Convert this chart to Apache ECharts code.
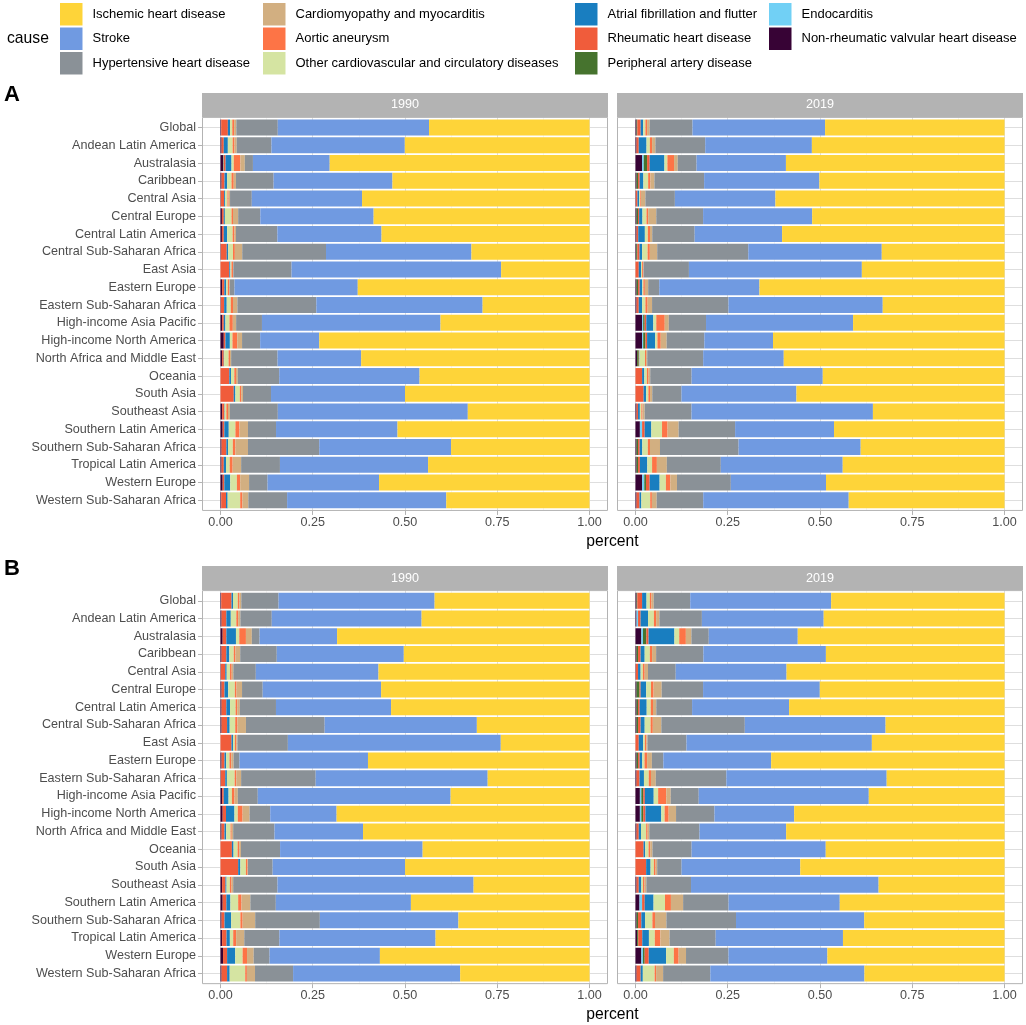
<!DOCTYPE html>
<html>
<head>
<meta charset="utf-8">
<script src="https://cdn.jsdelivr.net/npm/echarts@6/dist/echarts.min.js"></script>
<style>
html,body{margin:0;padding:0;background:#fff;}
#chart{width:1026px;height:1025px;}
</style>
</head>
<body>
<div id="chart"></div>
<script>
// Regions (top to bottom)
const regions = ["Global","Andean Latin America","Australasia","Caribbean","Central Asia","Central Europe","Central Latin America","Central Sub-Saharan Africa","East Asia","Eastern Europe","Eastern Sub-Saharan Africa","High-income Asia Pacific","High-income North America","North Africa and Middle East","Oceania","South Asia","Southeast Asia","Southern Latin America","Southern Sub-Saharan Africa","Tropical Latin America","Western Europe","Western Sub-Saharan Africa"];

// Causes in legend order
const causes = ["Ischemic heart disease","Stroke","Hypertensive heart disease","Cardiomyopathy and myocarditis","Aortic aneurysm","Other cardiovascular and circulatory diseases","Atrial fibrillation and flutter","Rheumatic heart disease","Peripheral artery disease","Endocarditis","Non-rheumatic valvular heart disease"];
const causeColors = ["#FED439","#709AE1","#8A9197","#D2AF81","#FD7446","#D5E4A2","#197EC0","#F05C3B","#46732E","#71D0F5","#370335"];

// Per-region shares (%), stack order left -> right:
// Non-rheumatic, Endocarditis, Peripheral, Rheumatic, Atrial fib, Other CVD, Aortic, Cardiomyopathy, Hypertensive, Stroke, Ischemic
const a1990 = [
[0.2,0,0,1.8,0.6,0.6,0.5,0.6,11.2,40.9,43.4],
[0.3,0,0,0.6,1.1,1.3,0.5,0.6,9.4,36.1,50.0],
[0.7,0.1,0.1,0.5,1.6,0.6,1.8,1.2,2.2,20.8,70.4],
[0.3,0,0,0.8,0.7,1.2,0.6,0.6,10.2,32.2,53.4],
[0.1,0,0,0.9,0.3,0.6,0.3,0.4,5.9,29.9,61.7],
[0.4,0,0,0.5,0.3,1.8,0.4,1.4,6.0,30.7,58.5],
[0.4,0,0,0.5,0.9,1.5,0.5,0.4,11.2,28.2,56.3],
[0.1,0,0,1.6,0.4,1.3,0.5,2.0,22.7,39.4,32.0],
[0,0,0,2.4,0.3,0.3,0.4,0.1,15.8,56.9,24.0],
[0.45,0,0,0.6,0.5,0.45,0.4,0.1,1.3,33.4,62.8],
[0.1,0,0,0.9,0.7,1.1,0.6,1.2,21.4,45.1,29.0],
[0.45,0,0,0.45,0.45,1.1,0.9,0.9,7.0,48.4,40.4],
[0.9,0,0,0.45,1.2,0.7,1.3,1.3,4.9,16.0,73.2],
[0.45,0,0,0.45,0.1,1.2,0.4,0.3,12.6,22.7,62.0],
[0,0,0,2.4,0.45,0.9,0.45,0.5,11.2,38.0,46.0],
[0,0,0,3.6,0.45,1.2,0.4,0.45,7.6,36.3,50.0],
[0.45,0,0,0.6,0.1,0.45,0.45,0.5,13.0,51.5,33.0],
[0.6,0,0,0.45,1.2,1.8,1.1,2.3,7.6,32.9,52.0],
[0.3,0,0,1.3,0.45,1.3,0.7,3.4,19.3,35.7,37.5],
[0.3,0,0,0.6,0.6,1.0,0.8,2.3,10.5,40.1,43.7],
[0.6,0,0,0.45,1.6,1.8,0.9,2.4,5.0,30.2,57.0],
[0.2,0,0,1.3,0.45,3.4,0.6,1.6,10.5,43.1,38.8]
];
const a2019 = [
[0.3,0,0.2,0.9,0.7,0.6,0.45,0.7,11.6,35.9,48.6],
[0.3,0,0,0.6,2.1,0.9,0.6,0.9,13.5,28.9,52.2],
[1.8,0.45,0.9,0.7,4.0,0.8,1.8,1.0,5.1,24.2,59.2],
[0.3,0,0.4,0.45,1.0,1.3,0.6,1.1,13.5,31.3,50.3],
[0.1,0,0,0.45,0.45,0.3,0.2,1.2,8.0,27.3,62.2],
[0.3,0,0.4,0.3,0.9,1.1,0.45,2.2,12.7,29.6,52.2],
[0.3,0,0,0.45,1.8,0.8,0.6,0.6,11.5,23.7,60.3],
[0.2,0,0.3,0.6,0.7,1.5,0.6,2.0,24.7,36.2,33.3],
[0,0,0,0.9,0.6,0.3,0.3,0.1,12.3,46.9,38.7],
[0.3,0,0.4,0.45,0.7,0.3,0.4,0.9,3.0,27.2,66.5],
[0.3,0,0,0.6,0.9,0.9,0.6,1.2,20.7,41.8,33.0],
[1.8,0.3,0.4,0.45,1.9,0.8,2.3,1.1,10.1,39.9,41.1],
[1.8,0.3,0.6,0.45,2.2,0.6,0.9,1.6,10.2,18.6,62.7],
[0.45,0,0.45,0.1,0.1,1.5,0.3,0.3,15.2,21.9,60.0],
[0,0,0,1.8,0.6,0.7,0.45,0.45,11.2,35.5,49.2],
[0,0,0,2.2,0.7,0.6,0.45,0.6,7.9,31.1,56.3],
[0.3,0,0,0.4,0.5,0.4,0.3,0.6,12.7,49.2,35.7],
[1.2,0.6,0,0.7,1.8,2.9,1.5,3.0,15.3,26.8,46.2],
[0.3,0,0.4,0.45,0.7,1.5,0.6,2.7,21.3,33.1,39.0],
[0.3,0,0.4,0.5,2.0,1.3,1.3,2.7,14.6,33.0,43.8],
[1.8,0.6,0.45,1.0,2.7,1.7,1.2,1.8,14.6,25.8,48.4],
[0.3,0,0,0.8,0.5,2.4,0.45,1.3,12.6,39.4,42.2]
];
const b1990 = [
[0.2,0,0,2.8,0.4,1.3,0.45,0.5,10.1,42.3,42.0],
[0.3,0,0,1.3,1.2,1.5,0.5,0.6,8.5,40.6,45.5],
[0.6,0,0,1.0,2.6,0.9,1.8,1.6,2.1,21.0,68.4],
[0.3,0,0,1.3,0.8,1.2,0.45,1.3,9.9,34.4,50.3],
[0.1,0,0,1.2,0.4,0.9,0.45,0.45,6.1,33.3,57.3],
[0.3,0,0,0.8,1.0,1.8,0.45,1.5,5.6,32.1,56.5],
[0.3,0,0,1.3,1.0,1.5,0.45,0.7,9.8,31.2,53.8],
[0.3,0,0,1.5,0.7,1.5,0.6,2.3,21.3,41.2,30.5],
[0,0,0,3.0,0.4,0.5,0.4,0.3,13.7,57.8,24.1],
[0.3,0,0,0.8,0.45,0.9,0.5,0.6,1.6,34.8,60.0],
[0.1,0,0,1.2,0.45,2.1,0.45,1.3,20.2,46.6,27.6],
[0.45,0,0,0.45,1.3,0.9,0.7,0.9,5.4,52.2,37.6],
[0.6,0,0,0.9,2.3,0.9,1.3,1.9,5.6,18.0,68.6],
[0.3,0,0,0.8,0.45,1.2,0.3,0.4,11.2,24.0,61.4],
[0,0,0,3.1,0.45,1.1,0.45,0.45,10.6,38.6,45.2],
[0,0,0,4.8,0.6,1.5,0.45,0.1,6.7,35.9,50.0],
[0.45,0,0,0.9,0.3,0.9,0.45,0.45,12.0,53.1,31.4],
[0.6,0,0,1.0,1.1,2.1,0.9,2.4,6.9,36.6,48.4],
[0.3,0,0,0.8,1.8,2.5,0.6,3.4,17.5,37.5,35.5],
[0.45,0,0,1.2,0.9,0.9,0.8,2.2,9.5,42.3,41.7],
[0.7,0,0,1.1,2.2,2.0,1.2,1.8,4.3,29.9,56.8],
[0.3,0,0,1.5,0.7,4.2,0.45,2.2,10.3,45.2,35.0]
];
const b2019 = [
[0.3,0,0.2,1.3,1.2,0.9,0.45,0.6,9.9,38.2,47.0],
[0.3,0.4,0,0.7,2.0,1.6,0.6,0.9,11.5,33.0,49.0],
[1.6,0.45,0.9,0.6,7.0,1.3,1.8,1.5,4.7,24.1,56.0],
[0.3,0,0.4,0.7,1.1,1.4,0.6,1.1,12.8,33.2,48.4],
[0.1,0,0,0.6,0.7,0.6,0.5,0.9,7.5,30.0,59.0],
[0.3,0,0.8,0.3,1.5,1.3,0.7,2.2,11.2,31.6,50.0],
[0.3,0,0.4,0.45,1.9,1.1,0.6,0.9,9.7,26.3,58.4],
[0.3,0,0.4,0.7,1.1,1.6,0.6,2.3,22.6,38.1,32.2],
[0,0,0,0.9,1.2,0.45,0.4,0.3,10.6,50.3,36.0],
[0.3,0,0.4,0.45,0.7,0.6,0.7,1.3,3.1,29.2,63.2],
[0.3,0,0,0.8,1.2,1.3,0.6,1.3,19.1,43.4,31.9],
[1.2,0.4,0.5,0.45,2.4,1.2,2.2,1.2,7.6,46.1,36.8],
[1.2,0.4,0.5,0.6,4.3,0.9,1.1,2.0,10.4,21.6,57.0],
[0.3,0,0,0.6,0.6,1.4,0.4,0.45,13.6,23.5,59.2],
[0,0,0,2.2,0.45,0.9,0.45,0.6,10.6,36.3,48.4],
[0,0,0,2.9,1.2,0.9,0.45,0.45,6.6,32.2,55.4],
[0.3,0,0,0.6,0.7,0.45,0.4,0.5,12.1,50.8,34.1],
[1.1,0.7,0,0.7,2.4,3.1,1.6,3.3,12.3,30.1,44.6],
[0.3,0,0.4,0.9,1.0,2.0,0.7,3.1,18.9,34.8,38.1],
[0.45,0,0.3,1.1,1.8,1.6,1.5,2.5,12.5,34.5,43.8],
[1.6,0.45,0.45,1.1,4.7,2.1,1.3,2.0,11.5,26.8,48.0],
[0.3,0,0,1.1,0.6,3.2,0.4,1.9,12.8,41.8,38.0]
];
const xTicks = [0, 0.25, 0.5, 0.75, 1];

const FONT = "'Liberation Sans', Arial, Helvetica, sans-serif";
const GREY70 = '#B3B3B3', GRID_MAJ = '#DEDEDE', GRID_MIN = '#EEEEEE', AXTXT = '#4D4D4D';

const panels = [
  {rows: a1990, L: 202, T: 116.9, s: 17.75, strip: '1990', left: true},
  {rows: a2019, L: 617, T: 116.9, s: 17.75, strip: '2019', left: false},
  {rows: b1990, L: 202, T: 590.1, s: 17.75, strip: '1990', left: true},
  {rows: b2019, L: 617, T: 590.1, s: 17.75, strip: '2019', left: false}
];
const PW = 406, EXP = PW * 0.05 / 1.1, DW = PW - 2 * EXP, STRIP_H = 24;

const grid = [], xAxis = [], yAxis = [], series = [], graphic = [];
panels.forEach((p, i) => {
  const H = 22.2 * p.s;
  // grid V: vertical gridlines + x axis labels
  grid.push({left: p.L + EXP, top: p.T, width: DW, height: H, outerBoundsMode: 'none'});
  xAxis.push({gridIndex: 3*i, type: 'value', min: 0, max: 1, interval: 0.25, position: 'bottom',
    axisLine: {show: false},
    axisTick: {show: true, length: 4, lineStyle: {color: GREY70, width: 1}},
    axisLabel: {color: AXTXT, fontSize: 12.6, fontFamily: FONT, margin: 5, formatter: v => v.toFixed(2)},
    splitLine: {show: true, lineStyle: {color: GRID_MAJ, width: 1}},
    minorTick: {show: false, splitNumber: 2},
    minorSplitLine: {show: true, lineStyle: {color: GRID_MIN, width: 0.6}}
  });
  yAxis.push({gridIndex: 3*i, type: 'value', show: false, min: 0, max: 1});
  // grid H: horizontal gridlines + region labels
  grid.push({left: p.L, top: p.T + 0.6*p.s, width: PW, height: 21*p.s, outerBoundsMode: 'none'});
  xAxis.push({gridIndex: 3*i+1, type: 'value', show: false, min: 0, max: 1});
  yAxis.push({gridIndex: 3*i+1, type: 'category', data: regions, inverse: true, boundaryGap: false,
    axisLine: {show: false},
    axisTick: {show: p.left, length: 4, interval: 0, lineStyle: {color: GREY70, width: 1}},
    axisLabel: {show: p.left, interval: 0, color: AXTXT, fontSize: 12.6, fontFamily: FONT, margin: 6},
    splitLine: {show: true, interval: 0, lineStyle: {color: GRID_MAJ, width: 1}}
  });
  // grid B: bars
  grid.push({left: p.L + EXP, top: p.T + 0.1*p.s, width: DW, height: 22*p.s, outerBoundsMode: 'none'});
  xAxis.push({gridIndex: 3*i+2, type: 'value', show: false, min: 0, max: 1});
  yAxis.push({gridIndex: 3*i+2, type: 'category', data: regions, inverse: true, show: false});
  for (let k = 0; k < 11; k++) {
    const ci = 10 - k;
    series.push({
      type: 'bar', name: causes[ci], stack: 'panel' + i,
      xAxisIndex: 3*i+2, yAxisIndex: 3*i+2, barWidth: '90%',
      itemStyle: {color: causeColors[ci], borderWidth: 0},
      emphasis: {disabled: true}, silent: true,
      data: p.rows.map(r => { const t = r.reduce((a, b) => a + b, 0); return r[k] / t; })
    });
  }
  // strip + border
  graphic.push({type: 'rect', shape: {x: p.L, y: p.T - STRIP_H, width: PW, height: STRIP_H},
    style: {fill: GREY70}, z: 50});
  graphic.push({type: 'text', x: p.L + PW/2, y: p.T - STRIP_H/2,
    style: {text: p.strip, fill: '#FFFFFF', font: '12.6px ' + FONT, align: 'center', verticalAlign: 'middle'}, z: 51});
  graphic.push({type: 'rect', shape: {x: p.L + 0.5, y: p.T + 0.5, width: PW - 1, height: H - 1},
    style: {fill: 'none', stroke: GREY70, lineWidth: 1}, z: 100});
});

// panel letters, axis titles, legend title
graphic.push({type: 'text', x: 4, y: 95, style: {text: 'A', fill: '#000', font: 'bold 22px ' + FONT, verticalAlign: 'middle'}, z: 60});
graphic.push({type: 'text', x: 4, y: 569, style: {text: 'B', fill: '#000', font: 'bold 22px ' + FONT, verticalAlign: 'middle'}, z: 60});
graphic.push({type: 'text', x: 612.5, y: 541.5, style: {text: 'percent', fill: '#000', font: '15.7px ' + FONT, align: 'center', verticalAlign: 'middle'}, z: 60});
graphic.push({type: 'text', x: 612.5, y: 1014.5, style: {text: 'percent', fill: '#000', font: '15.7px ' + FONT, align: 'center', verticalAlign: 'middle'}, z: 60});
graphic.push({type: 'text', x: 7, y: 38.5, style: {text: 'cause', fill: '#000', font: '15.7px ' + FONT, verticalAlign: 'middle'}, z: 60});

const legendCols = [
  {left: 60, items: [0, 1, 2]},
  {left: 263, items: [3, 4, 5]},
  {left: 575, items: [6, 7, 8]},
  {left: 769, items: [9, 10]}
];
const legend = legendCols.map(c => ({
  orient: 'vertical', left: c.left, top: 3, padding: 0,
  itemWidth: 22.5, itemHeight: 22.5, itemGap: 2, icon: 'rect', selectedMode: false,
  data: c.items.map(j => causes[j]),
  itemStyle: {borderWidth: 0},
  textStyle: {fontSize: 13, color: '#000', fontFamily: FONT, padding: [0, 0, 0, 5]}
}));

const chart = echarts.init(document.getElementById('chart'), null, {renderer: 'canvas'});
chart.setOption({
  animation: false,
  backgroundColor: '#FFFFFF',
  textStyle: {fontFamily: FONT},
  tooltip: {show: false},
  legend, grid, xAxis, yAxis, series, graphic
});
</script>
</body>
</html>
